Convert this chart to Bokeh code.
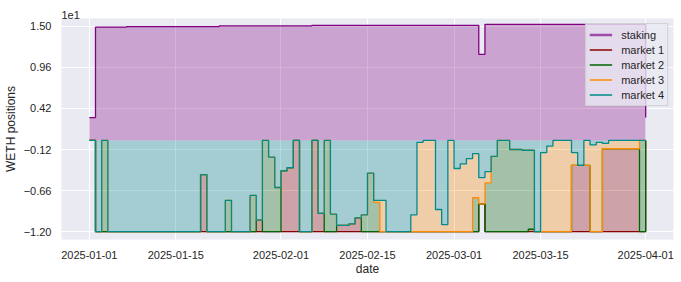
import numpy as np
import pandas as pd
from bokeh.plotting import figure
from bokeh.models import (ColumnDataSource, FixedTicker, DatetimeTickFormatter,
                          Legend, LegendItem, Range1d, Title)
from bokeh.embed import file_html
from bokeh.resources import INLINE

# ---------------- data (daily, step "after") ----------------
dates = pd.date_range("2025-01-01", "2025-04-01", freq="D")

staking = [3.0, 14.92, 14.92, 14.92, 14.92, 14.92, 14.98, 14.98, 14.98, 14.98,
           14.98, 14.98, 14.98, 14.98, 14.98, 14.98, 14.98, 14.98, 14.98, 14.98,
           14.98, 15.07, 15.07, 15.07, 15.07, 15.07, 15.07, 15.07, 15.07, 15.07,
           15.07, 15.07, 15.07, 15.07, 15.07, 15.07, 15.15, 15.15, 15.15, 15.15,
           15.15, 15.15, 15.15, 15.15, 15.15, 15.15, 15.15, 15.15, 15.15, 15.15,
           15.15, 15.15, 15.15, 15.15, 15.15, 15.15, 15.15, 15.15, 15.15, 15.15,
           15.15, 15.15, 15.15, 11.33, 15.28, 15.28, 15.28, 15.28, 15.28, 15.28,
           15.28, 15.28, 15.28, 15.28, 15.28, 15.28, 15.28, 15.28, 15.28, 15.28,
           15.28, 15.28, 15.28, 15.28, 15.28, 15.28, 15.28, 15.28, 15.28, 15.28,
           3.0]

market4 = [0, -12, 0, -12, -12, -12, -12, -12, -12, -12,
           -12, -12, -12, -12, -12, -12, -12, -12, -4.5, -12,
           -12, -12, -7.9, -12, -12, -12, -7.25, -10.5, 0, -2.2,
           -6.2, -4.0, -3.6, 0, -12, -12, 0, -9.6, 0, -9.7,
           -11.2, -11.2, -11.0, -10.2, -9.8, -4.3, -7.9, -7.9, -12, -12,
           -12, -12, -9.8, -0.25, 0, 0, -9.1, -11.1, 0, -3.7,
           -3.1, -2.4, -1.75, -4.9, -4.1, -2.1, 0, 0, -1.2, -1.2,
           -1.3, -1.3, -12, -1.6, -0.75, 0, 0, 0, -1.6, -3.3,
           0, -0.6, -0.25, -0.4, 0, 0, 0, 0, 0, 0,
           0]

market3 = [0, 0, 0, 0, 0, 0, 0, 0, 0, 0,
           0, 0, 0, 0, 0, 0, 0, 0, 0, 0,
           0, 0, 0, 0, 0, 0, 0, 0, 0, 0,
           0, 0, 0, 0, 0, 0, 0, 0, 0, 0,
           0, 0, 0, 0, 0, 0, -0.25, -4.1, 0, 0,
           0, 0, -2.2, -11.75, -12, -12, -2.9, -0.9, -12, -8.3,
           -8.9, -9.6, -5.8, -3.45, -1.5, 0, 0, 0, 0, 0,
           0, 0, 0, -10.4, -11.25, -12, -12, -12, -1.7, 0,
           -3.3, -11.4, -11.75, -0.7, -1.1, -1.1, -1.1, -1.1, -1.1, 0,
           0]

market2 = [0, 0, -12, 0, 0, 0, 0, 0, 0, 0,
           0, 0, 0, 0, 0, 0, 0, 0, 0, 0,
           0, 0, -4.1, 0, 0, 0, -4.75, 0, -12, -9.8,
           -5.8, 0, 0, 0, 0, 0, 0, 0, -12, -2.3,
           0, 0, 0, 0, -2.2, -7.7, -3.85, 0, 0, 0,
           0, 0, 0, 0, 0, 0, 0, 0, 0, 0,
           0, 0, -4.45, 0, -6.4, -9.9, -12, -12, -10.8, -10.8,
           -10.7, -10.4, 0, 0, 0, 0, 0, 0, 0, 0,
           0, 0, 0, 0, 0, 0, 0, 0, 0, -12,
           0]

market1 = [0, 0, 0, 0, 0, 0, 0, 0, 0, 0,
           0, 0, 0, 0, 0, 0, 0, 0, -7.5, 0,
           0, 0, 0, 0, 0, 0, 0, -1.5, 0, 0,
           0, -8.0, -8.4, -12, 0, 0, -12, -2.4, 0, 0,
           -0.8, -0.8, -1.0, -1.8, 0, 0, 0, 0, 0, 0,
           0, 0, 0, 0, 0, 0, 0, 0, 0, 0,
           0, 0, 0, 0, 0, 0, 0, 0, 0, 0,
           0, -0.3, 0, 0, 0, 0, 0, 0, -8.7, -8.7,
           -8.7, 0, 0, -10.9, -10.9, -10.9, -10.9, -10.9, -10.9, 0,
           0]

series_names = ["staking", "market 1", "market 2", "market 3", "market 4"]
colors = {"staking": "purple", "market 1": "darkred", "market 2": "darkgreen",
          "market 3": "darkorange", "market 4": "darkcyan"}

y_tick_values = [-12, -6.6, -1.2, 4.2, 9.6, 15]
y_tick_labels = ["\u22121.20", "\u22120.66", "\u22120.12", "0.42", "0.96", "1.50"]
y_offset_text = "1e1"
x_tick_dates = ["2025-01-01", "2025-01-15", "2025-02-01", "2025-02-15",
                "2025-03-01", "2025-03-15", "2025-04-01"]

# ---------------- stacking (markets stacked downward from 0) ----------------
m1 = np.array(market1, float)
m2 = np.array(market2, float)
m3 = np.array(market3, float)
m4 = np.array(market4, float)
c4 = m4
c3 = c4 + m3
c2 = c3 + m2
c1 = c2 + m1
zero = np.zeros(len(dates))

src = ColumnDataSource(dict(x=dates, zero=zero, st=np.array(staking, float),
                            c1=c1, c2=c2, c3=c3, c4=c4))

def ms(d):
    return pd.Timestamp(d).timestamp() * 1000.0

FONT = "Liberation Sans"
TXT = "#262626"

x0 = pd.Timestamp("2025-01-01") - pd.Timedelta(hours=108)
x1 = pd.Timestamp("2025-04-01") + pd.Timedelta(hours=108)

p = figure(x_axis_type="datetime", frame_width=612, frame_height=221,
           x_range=Range1d(ms(x0), ms(x1)), y_range=Range1d(-13.05, 16.05),
           output_backend="svg", toolbar_location=None,
           min_border_left=52, min_border_top=18, min_border_right=2,
           min_border_bottom=5)

p.background_fill_color = "#eaeaf2"
p.border_fill_color = "white"
p.outline_line_color = None

# offset text "1e1" as a left-aligned title just above the frame
p.title = Title(text=y_offset_text, align="left", offset=0, standoff=0,
                text_font=FONT, text_font_size="11px", text_font_style="normal",
                text_color=TXT)

# fills
p.varea_step(x="x", y1="zero", y2="st", step_mode="after", source=src,
             fill_color=colors["staking"], fill_alpha=0.3)
p.varea_step(x="x", y1="zero", y2="c4", step_mode="after", source=src,
             fill_color=colors["market 4"], fill_alpha=0.3)
p.varea_step(x="x", y1="c4", y2="c3", step_mode="after", source=src,
             fill_color=colors["market 3"], fill_alpha=0.3)
p.varea_step(x="x", y1="c3", y2="c2", step_mode="after", source=src,
             fill_color=colors["market 2"], fill_alpha=0.3)
p.varea_step(x="x", y1="c2", y2="c1", step_mode="after", source=src,
             fill_color=colors["market 1"], fill_alpha=0.3)

# lines
LW = 1.3
p.step(x="x", y="st", mode="after", source=src, line_color=colors["staking"], line_width=LW)
p.step(x="x", y="c1", mode="after", source=src, line_color=colors["market 1"], line_width=LW)
p.step(x="x", y="c2", mode="after", source=src, line_color=colors["market 2"], line_width=LW)
p.step(x="x", y="c3", mode="after", source=src, line_color=colors["market 3"], line_width=LW)
p.step(x="x", y="c4", mode="after", source=src, line_color=colors["market 4"], line_width=LW)

# legend proxies (single-point lines: invisible in the plot, drawn in legend)
items = []
for name in series_names:
    lw = 2.6 if name == "staking" else 1.4
    col = "#a04aab" if name == "staking" else colors[name]
    r = p.line(x=[ms(x0)], y=[0.0], line_color=col, line_width=lw)
    items.append(LegendItem(label=name, renderers=[r]))

legend = Legend(items=items, location="top_right", margin=5, padding=3,
                spacing=0, glyph_width=23, glyph_height=15, label_height=15,
                label_standoff=9, label_text_font=FONT, label_text_font_size="11px",
                label_text_color=TXT, background_fill_color="#eaeaf2",
                background_fill_alpha=0.8, border_line_color="#cccccc",
                border_line_alpha=0.8)
p.add_layout(legend)

# axes
ticker_x = FixedTicker(ticks=[ms(d) for d in x_tick_dates])
p.xaxis.ticker = ticker_x
p.xgrid.ticker = ticker_x
fmt = "%Y-%m-%d"
p.xaxis.formatter = DatetimeTickFormatter(days=fmt, months=fmt, years=fmt,
                                          hours=fmt, minutes=fmt, seconds=fmt)
ticker_y = FixedTicker(ticks=y_tick_values)
p.yaxis.ticker = ticker_y
p.ygrid.ticker = ticker_y
p.yaxis.major_label_overrides = {v: l for v, l in zip(y_tick_values, y_tick_labels)}

for ax in (p.xaxis, p.yaxis):
    ax.axis_line_color = None
    ax.major_tick_line_color = None
    ax.minor_tick_line_color = None
    ax.major_tick_out = 0
    ax.major_tick_in = 0
    ax.minor_tick_out = 0
    ax.minor_tick_in = 0
    ax.major_label_text_font = FONT
    ax.major_label_text_font_size = "11px"
    ax.major_label_text_color = TXT
    ax.axis_label_text_font = FONT
    ax.axis_label_text_font_size = "12px"
    ax.axis_label_text_font_style = "normal"
    ax.axis_label_text_color = TXT

p.xaxis.axis_label = "date"
p.yaxis.axis_label = "WETH positions"
p.xaxis.major_label_standoff = 11
p.xaxis.axis_label_standoff = 0
p.yaxis.major_label_standoff = 10
p.yaxis.axis_label_standoff = 3

p.grid.grid_line_color = "white"
p.grid.grid_line_width = 1

open("out.html", "w").write(file_html(p, INLINE))
